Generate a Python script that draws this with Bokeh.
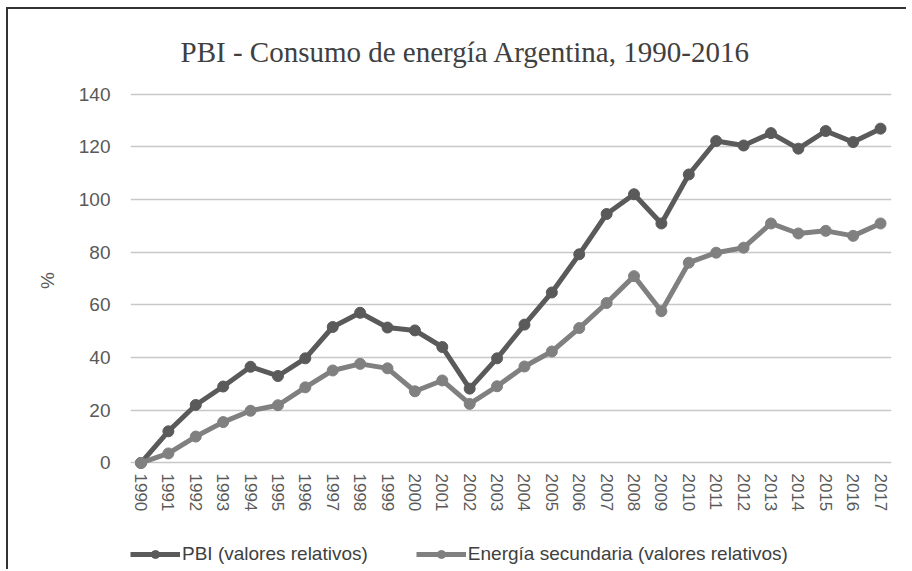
from bokeh.plotting import figure
from bokeh.layouts import column
from bokeh.models import Range1d, FixedTicker, Legend, LegendItem, Title
from bokeh.embed import file_html
from bokeh.resources import INLINE

years = list(range(1990, 2018))
pbi = [0, 12, 22, 29, 36.5, 33, 39.7, 51.6, 57, 51.4, 50.3, 44, 28.2, 39.7, 52.5,
       64.7, 79.2, 94.5, 102, 90.9, 109.5, 122.2, 120.5, 125.2, 119.3, 126, 121.8, 126.9]
energia = [0, 3.6, 10, 15.5, 19.8, 21.9, 28.7, 35.1, 37.6, 35.9, 27.2, 31.3, 22.4, 29.1, 36.6,
           42.3, 51.2, 60.7, 70.9, 57.6, 76, 79.8, 81.7, 90.9, 87.1, 88.1, 86.2, 90.9]
y_ticks = [0, 20, 40, 60, 80, 100, 120, 140]

title_text = "PBI - Consumo de energía Argentina, 1990-2016"
label_pbi = "PBI (valores relativos)"
label_energia = "Energía secundaria (valores relativos)"

c_pbi = "#5a5a5a"
c_en = "#808080"
txt = "#595959"

p = figure(frame_width=761, frame_height=378, output_backend="svg", toolbar_location=None,
           x_range=Range1d(1989.617, 2017.40), y_range=Range1d(-2.5, 141),
           min_border_left=122, min_border_right=15, min_border_top=82, min_border_bottom=70)

p.outline_line_color = None
p.background_fill_color = "white"
p.border_fill_color = "white"

t = Title(text=title_text, text_font="Liberation Serif", text_font_size="29px",
          text_font_style="normal", text_color="#404040", align="left", offset=50, standoff=48)
p.add_layout(t, "above")

# grid
p.xgrid.grid_line_color = None
p.ygrid.ticker = FixedTicker(ticks=y_ticks)
p.ygrid.grid_line_color = "#c8c8c8"
p.ygrid.grid_line_width = 1.6

# y axis
p.yaxis.ticker = FixedTicker(ticks=y_ticks)
p.yaxis.axis_line_color = None
p.yaxis.major_tick_line_color = None
p.yaxis.minor_tick_line_color = None
p.yaxis.major_tick_out = 0
p.yaxis.major_tick_in = 0
p.yaxis.major_label_standoff = 20
p.yaxis.major_label_text_font = "Liberation Sans"
p.yaxis.major_label_text_font_size = "19px"
p.yaxis.major_label_text_color = txt
p.yaxis.axis_label = "%"
p.yaxis.axis_label_text_font = "Liberation Sans"
p.yaxis.axis_label_text_font_size = "19px"
p.yaxis.axis_label_text_font_style = "normal"
p.yaxis.axis_label_text_color = txt
p.yaxis.axis_label_standoff = 18

# x axis
p.xaxis.ticker = FixedTicker(ticks=years)
p.xaxis.axis_line_color = None
p.xaxis.major_tick_line_color = None
p.xaxis.minor_tick_line_color = None
p.xaxis.major_tick_out = 0
p.xaxis.major_tick_in = 0
p.xaxis.major_label_orientation = "vertical"
p.xaxis.major_label_standoff = 4
p.xaxis.major_label_text_font = "Liberation Sans"
p.xaxis.major_label_text_font_size = "17px"
p.xaxis.major_label_text_color = txt

p.line(years, pbi, line_color=c_pbi, line_width=5)
p.scatter(years, pbi, marker="circle", size=11, fill_color=c_pbi, line_color=c_pbi)
p.line(years, energia, line_color=c_en, line_width=5)
p.scatter(years, energia, marker="circle", size=11, fill_color=c_en, line_color=c_en)

# legend strip below the chart (its renderers lie outside its own ranges; only the swatches show)
pl = figure(width=898, height=30, output_backend="svg", toolbar_location=None,
            x_axis_location=None, y_axis_location=None, min_border=0,
            x_range=Range1d(0, 1), y_range=Range1d(-1000, -999))
pl.outline_line_color = None
pl.grid.grid_line_color = None
pl.border_fill_color = "white"
lg1 = pl.line(years, pbi, line_color=c_pbi, line_width=5)
sg1 = pl.scatter(years, pbi, marker="circle", size=11, fill_color=c_pbi, line_color=c_pbi)
lg2 = pl.line(years, energia, line_color=c_en, line_width=5)
sg2 = pl.scatter(years, energia, marker="circle", size=11, fill_color=c_en, line_color=c_en)

legend = Legend(items=[LegendItem(label=label_pbi, renderers=[lg1, sg1]),
                       LegendItem(label=label_energia, renderers=[lg2, sg2])],
                orientation="horizontal", location=(0, 4),
                padding=0, margin=0, spacing=48, label_standoff=2,
                glyph_width=50, glyph_height=20, label_height=20,
                label_text_font="Liberation Sans", label_text_font_size="19px",
                label_text_color="#404040",
                border_line_color=None, background_fill_alpha=0)
pl.add_layout(legend, "center")

layout = column(p, pl, spacing=0)
layout.styles = {"margin-top": "7px", "margin-left": "6px",
                 "border-top": "2px solid #333333", "border-left": "2px solid #333333"}

open("out.html", "w").write(file_html(layout, INLINE))
